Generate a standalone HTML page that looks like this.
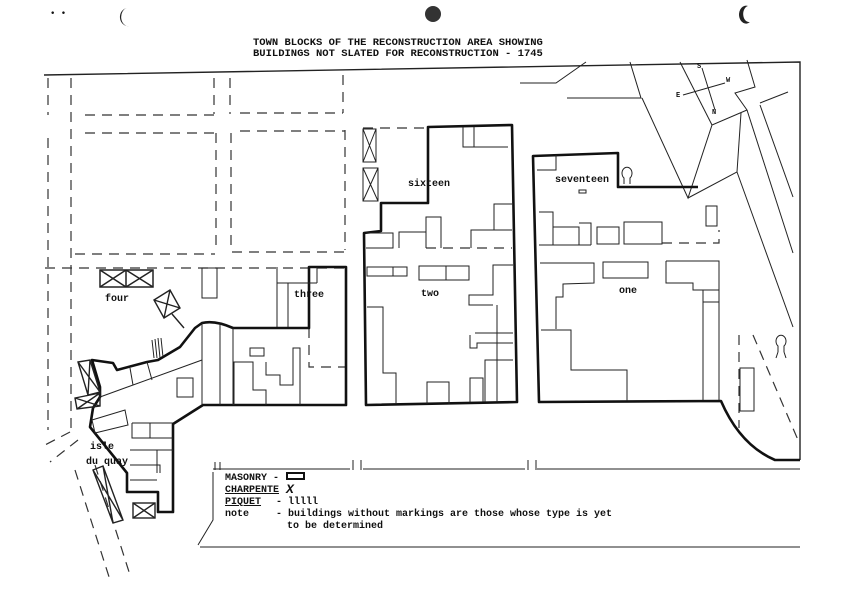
<!DOCTYPE html>
<html><head><meta charset="utf-8"><style>
html,body{margin:0;padding:0;background:#fff;}
svg{display:block;}
text{font-family:"Liberation Mono",monospace;fill:#111;font-weight:bold;}
</style></head><body>
<svg width="841" height="602" viewBox="0 0 841 602" xmlns="http://www.w3.org/2000/svg">
<rect width="841" height="602" fill="#fff"/>
<path d="M127 8 a8 9 0 1 0 2 18 a6 8 0 0 1 -2 -18z" fill="#222"/>
<circle cx="433" cy="14" r="8" fill="#333"/>
<path d="M748 6 a7 9 0 1 0 2 16 a5 7 0 0 1 -2 -16z" fill="#222"/>
<text x="50" y="16" font-size="9">• •</text>
<text x="253" y="45" font-size="10.5">TOWN BLOCKS OF THE RECONSTRUCTION AREA SHOWING</text>
<text x="253" y="56" font-size="10.5">BUILDINGS NOT SLATED FOR RECONSTRUCTION - 1745</text>

<g fill="none" stroke="#222" stroke-width="1">
<path d="M44 75 L800 62 L800 460" stroke-width="1.4"/>
<g stroke-dasharray="10 7" stroke="#333" stroke-width="1.2">
<path d="M48 78 V115 M48 138 V430 M71 78 V430 M214 78 V114 M230 78 V114 M343 75 V113"/>
<path d="M216 133 V252 M231 133 V252 M345 130 V250"/>
<path d="M85 115 H215 M240 113 H343"/>
<path d="M85 133 H215 M240 131 H345"/>
<path d="M75 254 H215 M232 252 H345"/>
<path d="M45 268 H350"/>
<path d="M70 432 L45 445 M78 440 L50 462"/>
<path d="M363 128 H428 M426 248 H512 M662 243 H719 V230"/>
<path d="M309 328 V367 H346"/>
<path d="M739 335 V428 M753 335 L798 440"/>
<path d="M75 470 L110 580 M95 465 L130 575"/>
</g>
<path d="M213 469 H350 M363 469 H525 M537 469 H800"/>
<path d="M215 462 v8 M220 462 v8 M353 460 v10 M361 460 v10 M528 460 v10 M536 460 v10"/>
<path d="M213 472 V520 L198 545"/>
<path d="M200 547 H800"/>
<path d="M520 83 H556 L586 62"/>
<path d="M567 98 H641 L630 62"/>
<path d="M642 98 L688 198 L712 125 L747 110 L735 93 L755 87 L747 60"/>
<path d="M680 62 L712 125"/>
<path d="M688 198 L737 172 L741 113"/>
<path d="M747 110 L793 253"/>
<path d="M760 103 L788 92"/>
<path d="M760 105 L793 197"/>
<path d="M737 172 L793 327"/>
<path d="M683 95 L725 83 M702 68 L715 110"/>
</g>
<text x="697" y="68" font-size="7">S</text><text x="726" y="82" font-size="7">W</text>
<text x="676" y="97" font-size="7">E</text><text x="712" y="114" font-size="7">N</text>

<g fill="none" stroke="#111" stroke-width="2.6" stroke-linejoin="round">
<path d="M428 127 L512 125 L517 402 L366 405 L364 233 L381 231 L381 203 L428 203 Z"/>
<path d="M698 187 H618 V153 L533 156 L539 402 L721 401 Q740 445 775 460 L800 460"/>
<path d="M309 267 H346 V405 H203 L173 424 V512 H158 V492 H127 V473 L90 427 L93 408 L100 397 L100 387 L92 360 L113 363 L117 370 L147 362 L158 360 L180 347 L195 328 L202 323 Q215 320 233 328 H309 Z"/>
</g>

<g fill="none" stroke="#222" stroke-width="1">
<path d="M463 127 V147 H508 M474 127 V147"/>
<path d="M366 233 H393 V248 H366 M399 248 V232 H426 V217 H441 V248 M426 232 V248"/>
<path d="M512 230 H471 V248 M494 230 V204 H512"/>
<rect x="367" y="267" width="40" height="9"/><path d="M393 267 V276"/>
<rect x="419" y="266" width="50" height="14"/><path d="M446 266 V280"/>
<path d="M513 265 H493 V295 H469 V305 H493 M497 305 V402 M475 333 H513 M470 335 V348 H477 V343 H513 M485 402 V360 H513 M470 402 V378 H483 V402"/>
<path d="M427 404 V382 H449 V404"/>
<path d="M367 307 H383 V373 H396 V404"/>
<rect x="363" y="129" width="13" height="33"/><path d="M363 129 L376 162 M376 129 L363 162"/>
<rect x="363" y="168" width="15" height="33"/><path d="M363 168 L378 201 M378 168 L363 201"/>
<path d="M537 170 H556 V155"/>
<path d="M539 212 H553 V245 M553 227 H579 V245 M579 223 H591 V245 M539 245 H591"/>
<rect x="597" y="227" width="22" height="17"/>
<rect x="624" y="222" width="38" height="22"/>
<rect x="706" y="206" width="11" height="20"/>
<rect x="579" y="190" width="7" height="3"/>
<path d="M540 263 H594 V283 L563 284 V297 H556 V329"/>
<rect x="603" y="262" width="45" height="16"/>
<path d="M666 261 H719 V400 M666 261 V283 H693 V290 H719 M703 290 V400 M703 302 H719"/>
<path d="M541 330 H571 V370 H627 V401"/>
<rect x="740" y="368" width="14" height="43"/>
<path d="M202 323 V405 M220 323 V405 M233 328 V405"/>
<path d="M234 405 V362 H253 V390 H266 V405 M266 362 V375 H280 V385 H293 V348 H300 V405"/>
<rect x="250" y="348" width="14" height="8"/>
<path d="M277 267 V327 M277 283 H317 M288 283 V327 M317 267 V283"/>
<rect x="202" y="268" width="15" height="30"/>
<rect x="100" y="270" width="53" height="17" stroke-width="1.5"/><path stroke-width="1.5" d="M126 270 V287 M100 270 L126 287 M126 270 L100 287 M126 270 L153 287 M153 270 L126 287"/>
<path stroke-width="1.4" d="M154 300 L170 290 L180 308 L164 318 Z M154 300 L180 308 M170 290 L164 318 M172 314 L184 328"/>
<path d="M152 340 L154 358 M155 339 L157 358 M158 338 L160 358 M161 338 L163 357"/>
<rect x="177" y="378" width="16" height="19"/>
<path d="M100 397 L202 360 M147 362 L152 380 M130 368 L133 385"/>
<path d="M92 420 L125 410 L128 425 L95 433 Z"/>
<path d="M132 423 H173 M132 423 V438 H173 M150 423 V438 M130 450 H173 M130 465 H160 V473 M130 480 H157 M157 450 V473"/>
<path stroke-width="1.4" d="M78 362 L90 360 L100 392 L88 395 Z M78 362 L100 392 M90 360 L88 395"/>
<path stroke-width="1.4" d="M75 398 L100 393 L100 406 L77 409 Z M75 398 L100 406 M100 393 L77 409"/>
<path stroke-width="1.4" d="M93 470 L103 466 L123 520 L113 523 Z M93 470 L123 520 M103 466 L113 523"/>
<rect x="133" y="503" width="22" height="15" stroke-width="1.4"/><path stroke-width="1.4" d="M133 503 L155 518 M155 503 L133 518"/>
<path d="M624 184 L624 178 A5 6 0 1 1 630 178 L630 184"/>
<path d="M778 352 L778 346 A5 6 0 1 1 784 346 L784 352 M778 352 L776 358 M784 352 L786 358"/>
</g>

<text x="555" y="182" font-size="10">seventeen</text>
<text x="619" y="293" font-size="10">one</text>
<text x="408" y="186" font-size="10">sixteen</text>
<text x="421" y="296" font-size="10">two</text>
<text x="294" y="297" font-size="10">three</text>
<text x="105" y="301" font-size="10">four</text>
<text x="90" y="449" font-size="10">isle</text>
<text x="86" y="464" font-size="10">du quay</text>

<g font-size="10">
<text x="225" y="480">MASONRY -</text>
<rect x="287" y="473" width="17" height="6" fill="none" stroke="#111" stroke-width="2"/>
<text x="225" y="492" text-decoration="underline">CHARPENTE</text><text x="286" y="493" font-size="13" font-style="italic">X</text>
<text x="225" y="504" text-decoration="underline">PIQUET</text><text x="276" y="504">- lllll</text>
<text x="225" y="516">note</text><text x="276" y="516">- buildings without markings are those whose type is yet</text>
<text x="287" y="528">to be determined</text>
</g>
</svg>
</body></html>
